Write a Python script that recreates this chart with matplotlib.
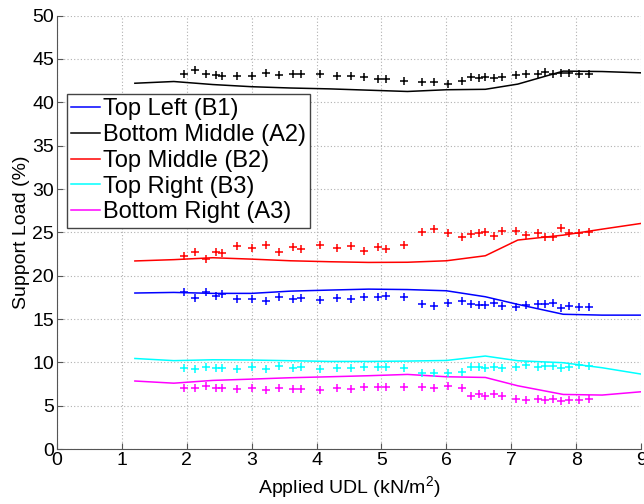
import matplotlib
matplotlib.use("Agg")
import matplotlib.pyplot as plt

plt.rcParams['font.family'] = ['Liberation Sans', 'DejaVu Sans']
plt.rcParams['mathtext.fontset'] = 'custom'
plt.rcParams['mathtext.rm'] = 'Liberation Sans'
plt.rcParams['mathtext.it'] = 'Liberation Sans:italic'

# measured loads (kN/m^2), shared by all five supports
x_test = [1.95, 2.13, 2.29, 2.45, 2.55, 2.78, 3.0, 3.22, 3.42, 3.63, 3.76, 4.06,
          4.31, 4.53, 4.73, 4.94, 5.07, 5.34, 5.62, 5.81, 6.02, 6.24, 6.38, 6.5,
          6.6, 6.73, 6.86, 7.08, 7.23, 7.41, 7.52, 7.64, 7.77, 7.89, 8.04, 8.2]

test_b1 = [18.15, 17.38, 18.07, 17.65, 17.88, 17.26, 17.26, 17.11, 17.57, 17.26, 17.38, 17.19,
           17.45, 17.26, 17.57, 17.57, 17.65, 17.49, 16.72, 16.53, 16.88, 17.07, 16.69, 16.61,
           16.61, 16.80, 16.53, 16.42, 16.61, 16.69, 16.69, 16.80, 16.22, 16.53, 16.42, 16.42]
test_a2 = [43.21, 43.71, 43.21, 43.10, 43.02, 43.06, 43.06, 43.33, 43.10, 43.21, 43.25, 43.25,
           43.02, 43.02, 42.87, 42.72, 42.72, 42.48, 42.37, 42.29, 42.10, 42.48, 42.94, 42.83,
           42.87, 42.75, 42.87, 43.18, 43.21, 43.21, 43.52, 43.25, 43.41, 43.33, 43.25, 43.21]
test_b2 = [22.30, 22.76, 21.88, 22.68, 22.57, 23.45, 23.22, 23.57, 22.68, 23.26, 23.03, 23.57,
           23.22, 23.45, 22.88, 23.26, 23.03, 23.57, 25.07, 25.34, 24.88, 24.41, 24.80, 24.95,
           25.07, 24.61, 25.18, 25.18, 24.68, 24.88, 24.49, 24.49, 25.45, 24.88, 24.88, 25.07]
test_b3 = [9.30, 9.23, 9.50, 9.38, 9.38, 9.23, 9.50, 9.23, 9.57, 9.30, 9.50, 9.19,
           9.30, 9.30, 9.50, 9.42, 9.50, 9.30, 8.73, 8.73, 8.80, 8.92, 9.42, 9.50,
           9.30, 9.50, 9.30, 9.50, 9.69, 9.50, 9.57, 9.57, 9.38, 9.50, 9.69, 9.61]
test_a3 = [7.00, 7.00, 7.27, 7.07, 7.07, 6.92, 7.00, 6.81, 7.00, 6.92, 6.88, 6.81,
           7.00, 6.92, 7.19, 7.19, 7.19, 7.19, 7.11, 7.07, 7.27, 7.00, 6.15, 6.31,
           6.15, 6.38, 6.11, 5.77, 5.65, 5.73, 5.65, 5.73, 5.57, 5.65, 5.65, 5.73]

# model predictions
x_model = [1.2, 1.8, 2.4, 3.0, 3.6, 4.2, 4.8, 5.4, 6.0, 6.6, 7.1, 7.8, 8.4, 9.0]
model_b1 = [18.0, 18.07, 17.96, 17.96, 18.22, 18.34, 18.45, 18.4, 18.26, 17.57, 16.69, 15.55, 15.45, 15.45]
model_a2 = [42.2, 42.4, 42.05, 41.8, 41.65, 41.55, 41.4, 41.25, 41.45, 41.5, 42.1, 43.6, 43.55, 43.4]
model_b2 = [21.7, 21.85, 22.07, 21.91, 21.72, 21.61, 21.53, 21.55, 21.72, 22.3, 24.11, 24.68, 25.37, 26.03]
model_b3 = [10.45, 10.2, 10.3, 10.27, 10.19, 10.11, 10.11, 10.15, 10.22, 10.73, 10.19, 9.96, 9.38, 8.65]
model_a3 = [7.85, 7.6, 7.92, 8.07, 8.23, 8.34, 8.46, 8.61, 8.34, 8.26, 7.30, 6.30, 6.23, 6.61]

labels = ['Top Left (B1)', 'Bottom Middle (A2)', 'Top Middle (B2)',
          'Top Right (B3)', 'Bottom Right (A3)']
colors = ['#0000ff', '#000000', '#ff0000', '#00ffff', '#ff00ff']
models = [model_b1, model_a2, model_b2, model_b3, model_a3]
tests = [test_b1, test_a2, test_b2, test_b3, test_a3]

fig = plt.figure(figsize=(6.44, 5.04), dpi=100)
ax = fig.add_axes([0.0885, 0.109, 0.907, 0.86])

for m, lab, c in zip(models, labels, colors):
    ax.plot(x_model, m, color=c, lw=1.1, label=lab)
for t, c in zip(tests, colors):
    ax.plot(x_test, t, '+', color=c, ms=6, mew=1.1)

ax.set_xlim(0, 9)
ax.set_ylim(0, 50)
ax.set_xticks(range(0, 10))
ax.set_yticks(range(0, 51, 5))
ax.grid(True, color='#b0b0b0', linestyle=(0, (1, 2)), lw=0.8)
ax.tick_params(direction='in', labelsize=14, length=4, color='#555555', pad=2)
for s in ['top', 'right']:
    ax.spines[s].set_visible(False)
for s in ['left', 'bottom']:
    ax.spines[s].set_color('#555555')

ax.set_xlabel('Applied UDL (kN/m$^2$)', fontsize=14, labelpad=4)
ax.set_ylabel('Support Load (%)', fontsize=14, labelpad=2)

leg = ax.legend(loc='upper left', bbox_to_anchor=(0.017, 0.819), borderaxespad=0,
                fontsize=17, handlelength=1.2, handletextpad=0.15,
                labelspacing=0.16, borderpad=0.18, fancybox=False, framealpha=1)
leg.get_frame().set_edgecolor('#444444')
leg.get_frame().set_linewidth(1.0)

fig.savefig('out.png', dpi=100)
